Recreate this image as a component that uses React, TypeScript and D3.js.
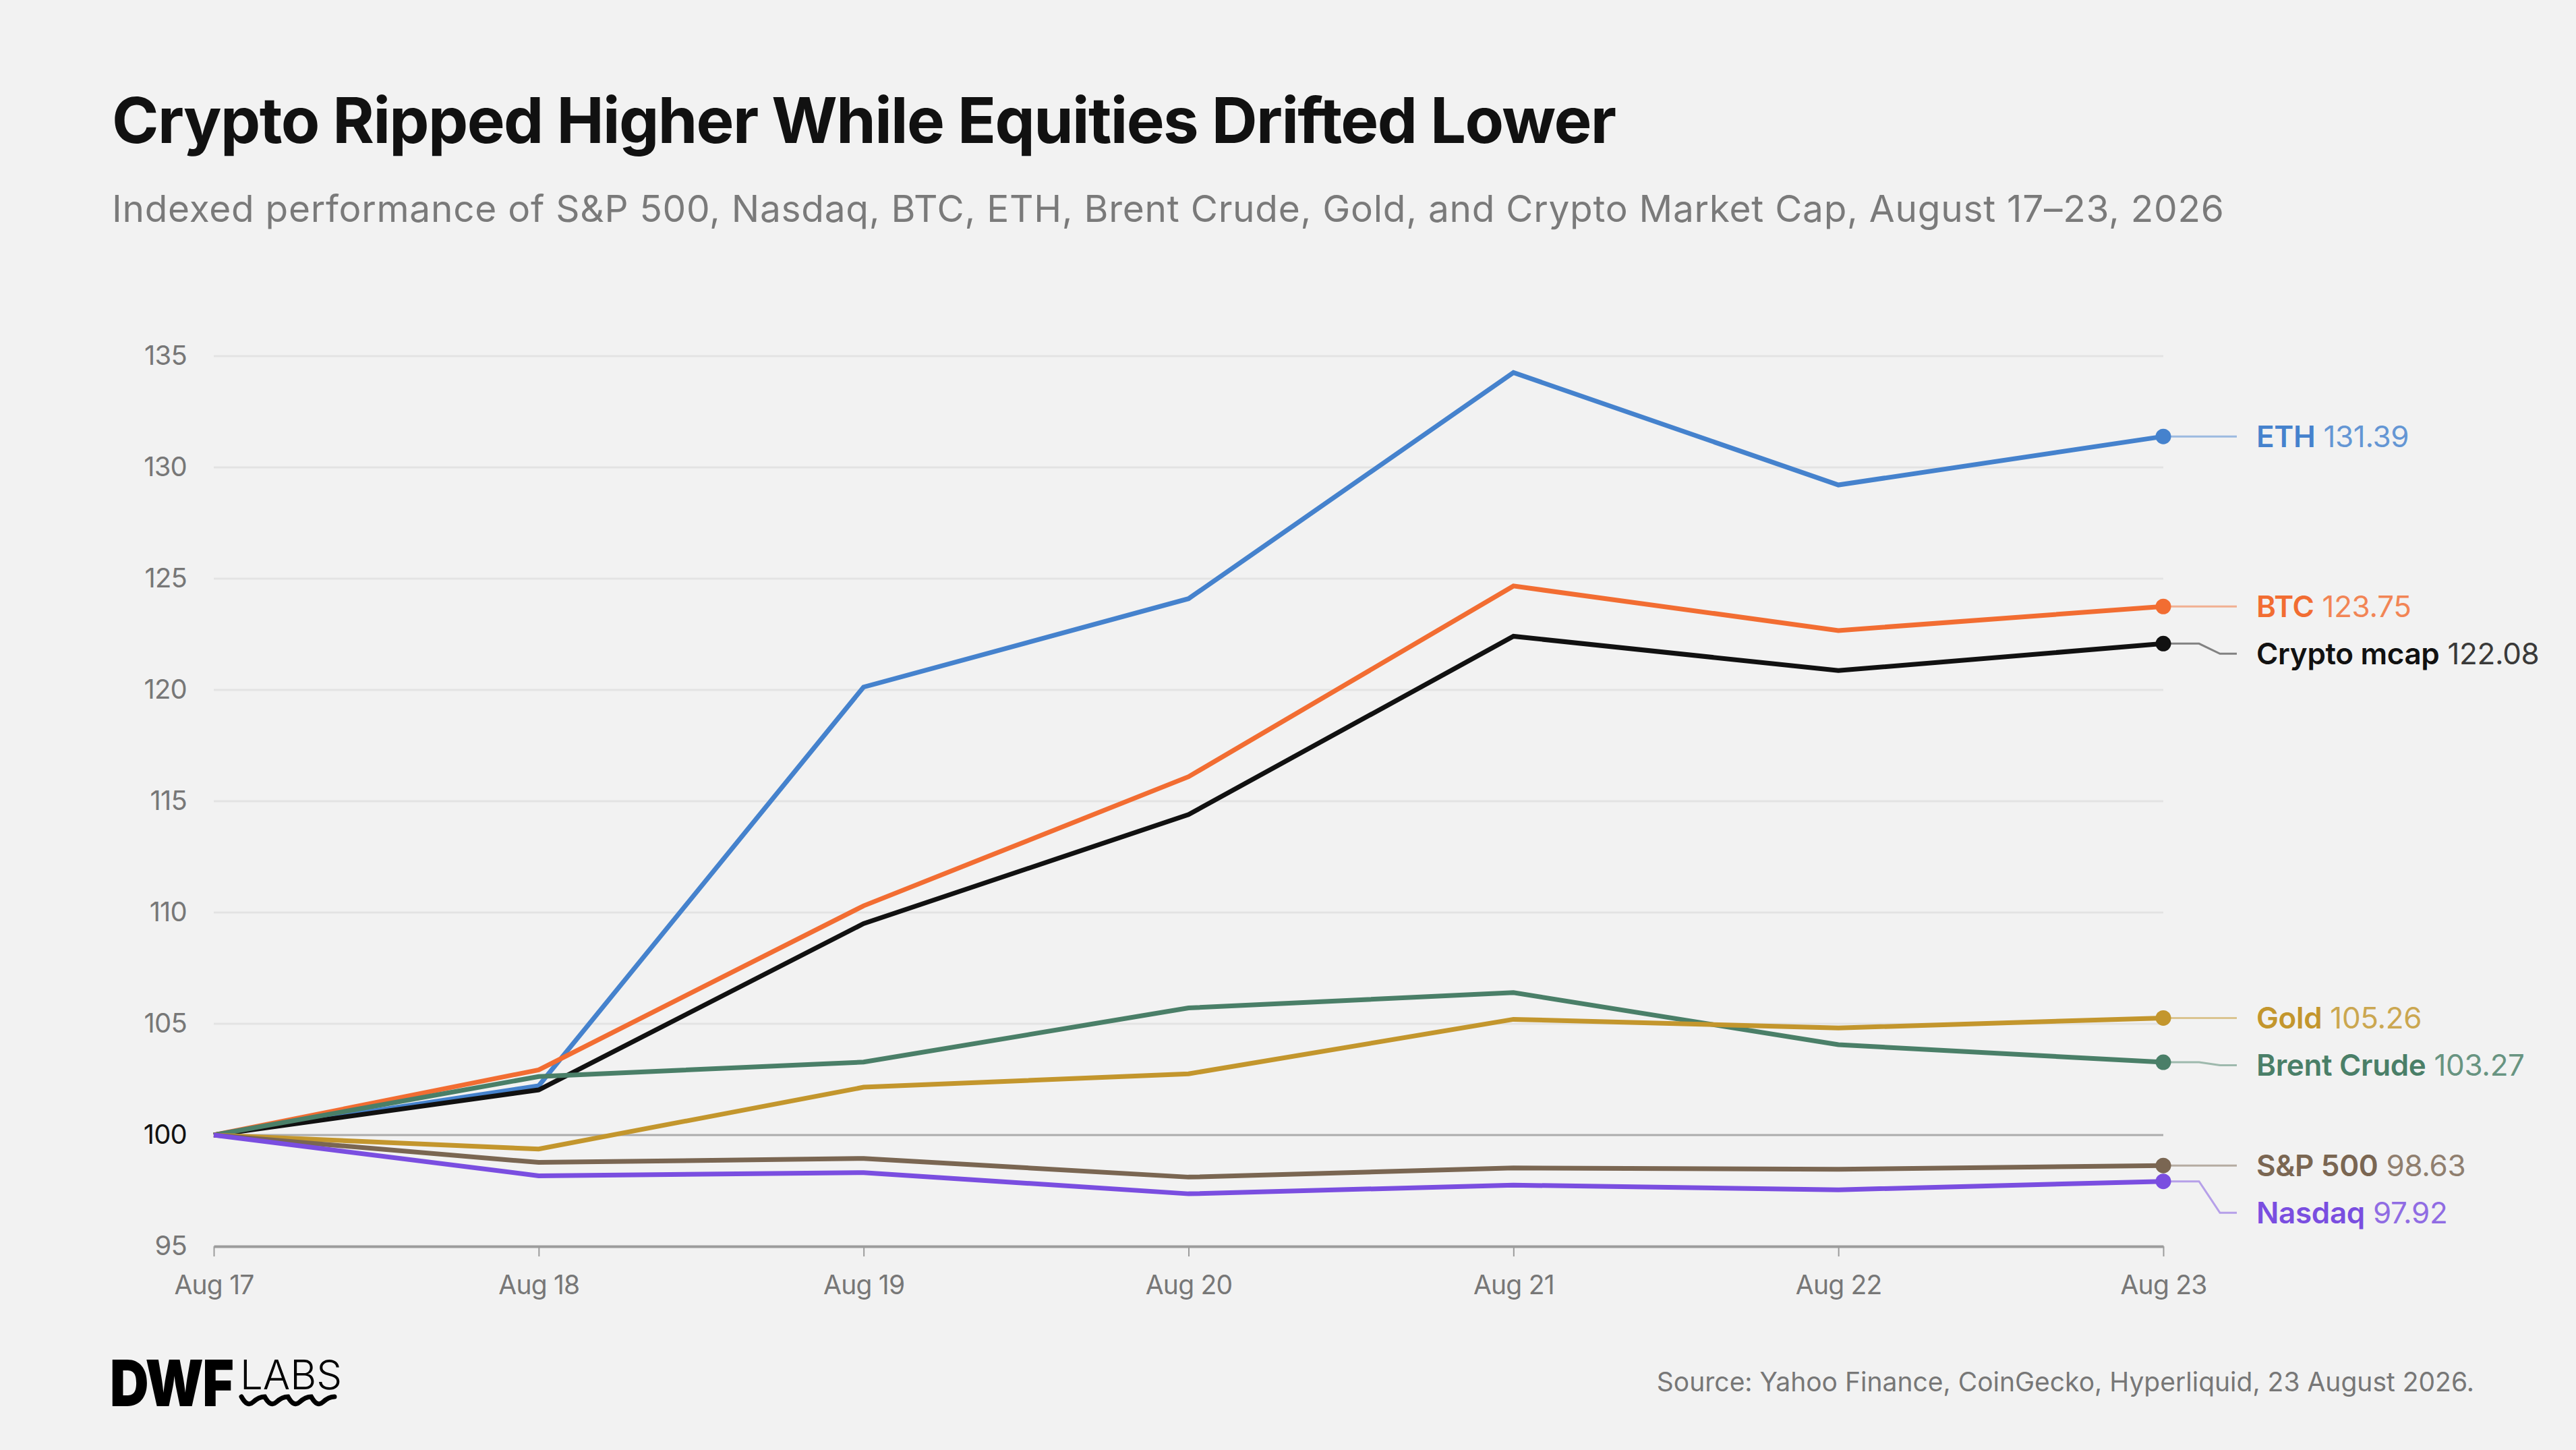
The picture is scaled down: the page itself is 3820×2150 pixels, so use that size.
import React, { useEffect, useRef } from 'react';
import * as d3 from 'd3';

const dates = ['Aug 17', 'Aug 18', 'Aug 19', 'Aug 20', 'Aug 21', 'Aug 22', 'Aug 23'];
const yTicks = [95, 100, 105, 110, 115, 120, 125, 130, 135];

const ethValues = [100, 102.21, 120.13, 124.1, 134.26, 129.21, 131.39];
const btcValues = [100, 102.93, 110.3, 116.1, 124.67, 122.67, 123.75];
const mcapValues = [100, 102.03, 109.5, 114.4, 122.41, 120.87, 122.08];
const brentValues = [100, 102.63, 103.28, 105.71, 106.4, 104.06, 103.27];
const goldValues = [100, 99.37, 102.15, 102.75, 105.2, 104.81, 105.26];
const spxValues = [100, 98.77, 98.95, 98.11, 98.52, 98.46, 98.63];
const nasdaqValues = [100, 98.17, 98.31, 97.36, 97.75, 97.54, 97.92];

const seriesNames = ['ETH', 'BTC', 'Crypto mcap', 'Brent Crude', 'Gold', 'S&P 500', 'Nasdaq'];
const seriesColors = ['#4582cd', '#f26d32', '#111111', '#4a7f68', '#c3962d', '#7a6652', '#7a4ee0'];
const seriesValues = [ethValues, btcValues, mcapValues, brentValues, goldValues, spxValues, nasdaqValues];

const W = 3820;
const H = 2150;
const BG = '#f2f2f2';
const FONT = 'Inter, "Noto Sans", sans-serif';

const App: React.FC = () => {
  const svgRef = useRef<SVGSVGElement>(null);

  useEffect(() => {
    if (!svgRef.current) return;
    document.body.style.margin = '0';

    const svg = d3.select(svgRef.current);
    svg.selectAll('*').remove();

    const margin = { top: 528, right: 612, bottom: 302, left: 317 };

    const x = d3.scalePoint<string>()
      .domain(dates)
      .range([margin.left, W - margin.right]);

    const y = d3.scaleLinear()
      .domain([95, 135])
      .range([H - margin.bottom, margin.top]);

    svg.append('rect').attr('width', W).attr('height', H).attr('fill', BG);

    // Title block
    svg.append('text')
      .attr('x', 166).attr('y', 212)
      .attr('font-family', FONT).attr('font-weight', 700).attr('font-size', 94)
      .attr('letter-spacing', '-0.017em')
      .attr('fill', '#111')
      .text('Crypto Ripped Higher While Equities Drifted Lower');

    svg.append('text')
      .attr('x', 166).attr('y', 329)
      .attr('font-family', FONT).attr('font-size', 55)
      .attr('letter-spacing', '0.72px')
      .attr('fill', '#7a7a7a')
      .text('Indexed performance of S&P 500, Nasdaq, BTC, ETH, Brent Crude, Gold, and Crypto Market Cap, August 17–23, 2026');

    // Grid lines
    svg.append('g')
      .selectAll('line')
      .data(yTicks.filter(t => t !== 95))
      .join('line')
      .attr('x1', margin.left).attr('x2', W - margin.right)
      .attr('y1', d => y(d)).attr('y2', d => y(d))
      .attr('stroke', d => d === 100 ? '#acacac' : '#e3e3e3')
      .attr('stroke-width', 3);

    // Y axis
    const yAxis = svg.append('g')
      .attr('transform', `translate(${margin.left},0)`)
      .call(d3.axisLeft(y).tickValues(yTicks).tickSize(0).tickPadding(40));
    yAxis.select('.domain').remove();
    yAxis.selectAll('text')
      .attr('font-family', FONT).attr('font-size', 40)
      .attr('letter-spacing', '-0.02em')
      .attr('fill', d => (d as number) === 100 ? '#111' : '#777');

    // X axis
    const xAxis = svg.append('g')
      .attr('transform', `translate(0,${y(95)})`)
      .call(d3.axisBottom(x).tickSize(15).tickPadding(28).tickSizeOuter(0));
    xAxis.select('.domain').attr('stroke', '#9c9c9c').attr('stroke-width', 4);
    xAxis.selectAll('.tick line').attr('stroke', '#9c9c9c').attr('stroke-width', 2);
    xAxis.selectAll('text')
      .attr('font-family', FONT).attr('font-size', 39)
      .attr('letter-spacing', '-0.02em')
      .attr('fill', '#777');

    // Lines
    const line = d3.line<number>()
      .x((_, i) => x(dates[i]) as number)
      .y(d => y(d));

    seriesValues.forEach((vals, i) => {
      svg.append('path')
        .datum(vals)
        .attr('fill', 'none')
        .attr('stroke', seriesColors[i])
        .attr('stroke-width', 7)
        .attr('stroke-linejoin', 'miter')
        .attr('d', line);
    });

    // End labels with simple collision avoidance
    const lastX = x(dates[dates.length - 1]) as number;
    const labels = seriesValues.map((vals, i) => {
      const v = vals[vals.length - 1];
      return { name: seriesNames[i], color: seriesColors[i], value: v, dotY: y(v), labelY: y(v) };
    }).sort((a, b) => a.dotY - b.dotY);

    const minGap = 70;
    for (let i = 1; i < labels.length; i++) {
      if (labels[i].labelY < labels[i - 1].labelY + minGap) {
        labels[i].labelY = labels[i - 1].labelY + minGap;
      }
    }

    const leader = d3.line<[number, number]>();
    const lg = svg.append('g');
    labels.forEach(l => {
      lg.append('path')
        .attr('d', leader([
          [lastX, l.dotY],
          [lastX + 53, l.dotY],
          [lastX + 84, l.labelY],
          [lastX + 109, l.labelY],
        ]))
        .attr('fill', 'none')
        .attr('stroke', l.color)
        .attr('stroke-opacity', 0.5)
        .attr('stroke-width', 3);

      lg.append('circle')
        .attr('cx', lastX).attr('cy', l.dotY).attr('r', 11.5)
        .attr('fill', l.color);

      const t = lg.append('text')
        .attr('x', lastX + 138).attr('y', l.labelY).attr('dy', '0.36em')
        .attr('font-family', FONT).attr('font-size', 44)
        .attr('letter-spacing', '-0.008em');
      t.append('tspan')
        .attr('font-weight', 600).attr('fill', l.color)
        .text(l.name);
      t.append('tspan')
        .attr('fill', d3.interpolateRgb(l.color, BG)(0.18))
        .text(' ' + l.value.toFixed(2));
    });

    // Footer: logo + source
    svg.append('text')
      .attr('transform', 'translate(163,2085) scale(0.84,1)')
      .attr('font-family', FONT).attr('font-weight', 900).attr('font-size', 95)
      .attr('letter-spacing', '-0.02em')
      .attr('fill', '#000')
      .text('DWF');

    svg.append('text')
      .attr('x', 356).attr('y', 2060)
      .attr('font-family', FONT).attr('font-weight', 300).attr('font-size', 60)
      .attr('fill', '#000')
      .text('LABS');

    // wave mark under LABS
    let wave = 'M358,2071';
    const step = 34.5;
    for (let k = 0; k < 4; k++) {
      const x0 = 358 + k * step;
      wave += ` Q${x0 + step / 4},${2087} ${x0 + step / 2},${2079} T${x0 + step},${2071}`;
    }
    svg.append('path')
      .attr('d', wave)
      .attr('fill', 'none')
      .attr('stroke', '#000')
      .attr('stroke-width', 7)
      .attr('stroke-linecap', 'round');

    svg.append('text')
      .attr('x', 3669).attr('y', 2063)
      .attr('text-anchor', 'end')
      .attr('font-family', FONT).attr('font-size', 39)
      .attr('fill', '#777')
      .text('Source: Yahoo Finance, CoinGecko, Hyperliquid, 23 August 2026.');
  }, []);

  return (
    <svg
      ref={svgRef}
      width={W}
      height={H}
      viewBox={`0 0 ${W} ${H}`}
      style={{ position: 'fixed', left: 0, top: 0, display: 'block' }}
    />
  );
};

export default App;
